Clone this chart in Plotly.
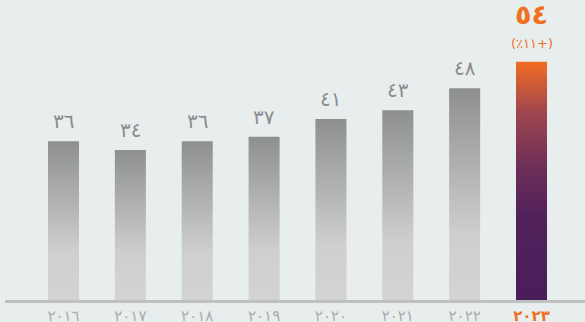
import plotly.graph_objects as go

years = ["٢٠١٦", "٢٠١٧", "٢٠١٨", "٢٠١٩", "٢٠٢٠", "٢٠٢١", "٢٠٢٢", "٢٠٢٣"]
values = [36, 34, 36, 37, 41, 43, 48, 54]
value_labels = ["٣٦", "٣٤", "٣٦", "٣٧", "٤١", "٤٣", "٤٨", "٥٤"]
growth_label = "(٪١١+)"

BG = "#E8EEEE"
GRAY_TXT = "#8C8C8C"
TICK_GRAY = "#ABABAB"
ORANGE = "#F07022"
FONT = "DejaVu Sans"

gray_scale = [[0, "#D3D3D3"], [0.3, "#CFCFCF"], [1, "#8E8F91"]]
hl_scale = [[0, "#4A1E5B"], [0.35, "#52215B"], [0.55, "#6C2E58"],
            [0.78, "#9C4550"], [1, "#F26C22"]]

hw = 0.232
fig = go.Figure()
n = len(values)
for i, v in enumerate(values):
    last = i == n - 1
    fig.add_trace(go.Scatter(
        x=[i - hw, i + hw, i + hw, i - hw, i - hw],
        y=[0, 0, v, v, 0],
        mode="lines", line=dict(width=0),
        fill="toself",
        fillgradient=dict(type="vertical", start=0, stop=v,
                          colorscale=hl_scale if last else gray_scale),
        hoverinfo="skip", showlegend=False,
    ))
    if not last:
        fig.add_annotation(x=i, y=v, text=value_labels[i], showarrow=False,
                           yanchor="bottom", yshift=6,
                           font=dict(family=FONT, size=20, color=GRAY_TXT))
    else:
        fig.add_annotation(x=i, y=v, text="<b>" + value_labels[i] + "</b>",
                           showarrow=False, yanchor="bottom", yshift=30,
                           font=dict(family=FONT, size=27, color=ORANGE))
        fig.add_annotation(x=i, y=v, text=growth_label, showarrow=False,
                           yanchor="bottom", yshift=9,
                           font=dict(family=FONT, size=13, color=ORANGE))

ticktext = [y if i < n - 1 else f"<b><span style='color:{ORANGE}'>{y}</span></b>"
            for i, y in enumerate(years)]

fig.update_layout(
    width=585, height=322,
    margin=dict(l=5, r=0, t=0, b=22, autoexpand=False),
    paper_bgcolor=BG, plot_bgcolor=BG,
    xaxis=dict(range=[-0.875, 7.8], tickvals=list(range(n)), ticktext=ticktext,
               showgrid=False, zeroline=False, showline=True,
               linecolor="#BFC1C1", linewidth=3, ticks="",
               ticklabelstandoff=0, automargin=False,
               tickfont=dict(family=FONT, size=15, color=TICK_GRAY),
               fixedrange=True),
    yaxis=dict(range=[0, 68], visible=False, fixedrange=True, automargin=False),
    showlegend=False,
)

fig.write_html("out.html")
